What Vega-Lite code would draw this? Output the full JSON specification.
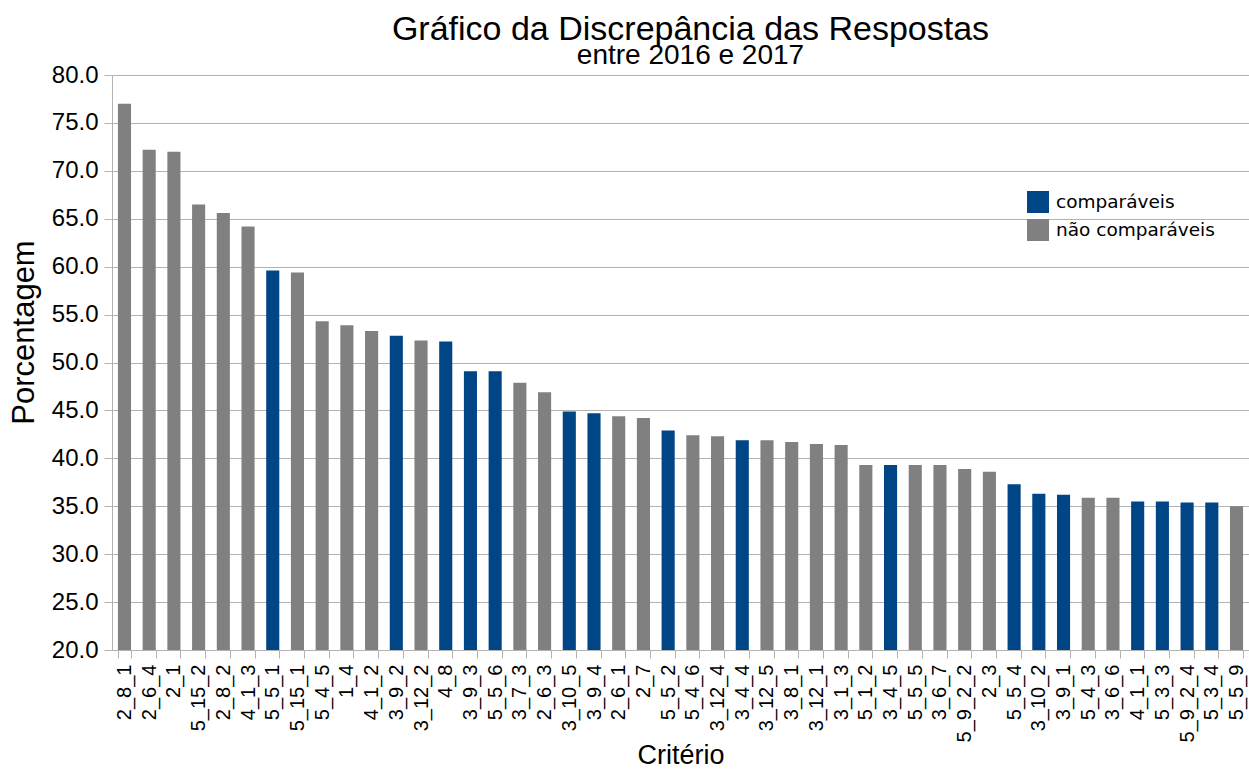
{
  "$schema": "https://vega.github.io/schema/vega-lite/v6.json",
  "width": 1137,
  "height": 575,
  "autosize": {"type": "none"},
  "padding": {"left": 112, "top": 75, "right": 0, "bottom": 120},
  "background": "white",
  "title": {
    "text": "Gráfico da Discrepância das Respostas",
    "subtitle": "entre 2016 e 2017",
    "font": "Liberation Sans",
    "fontSize": 34,
    "fontWeight": "normal",
    "color": "#000000",
    "subtitleFont": "Liberation Sans",
    "subtitleFontSize": 28,
    "subtitleColor": "#000000",
    "subtitlePadding": -5,
    "anchor": "middle",
    "offset": -7,
    "dx": 10
  },
  "data": {
    "values": [
      {"c": "2_8_1", "v": 77.0, "t": "não comparáveis"},
      {"c": "2_6_4", "v": 72.2, "t": "não comparáveis"},
      {"c": "2_1", "v": 72.0, "t": "não comparáveis"},
      {"c": "5_15_2", "v": 66.5, "t": "não comparáveis"},
      {"c": "2_8_2", "v": 65.6, "t": "não comparáveis"},
      {"c": "4_1_3", "v": 64.2, "t": "não comparáveis"},
      {"c": "5_5_1", "v": 59.6, "t": "comparáveis"},
      {"c": "5_15_1", "v": 59.4, "t": "não comparáveis"},
      {"c": "5_4_5", "v": 54.3, "t": "não comparáveis"},
      {"c": "1_4", "v": 53.9, "t": "não comparáveis"},
      {"c": "4_1_2", "v": 53.3, "t": "não comparáveis"},
      {"c": "3_9_2", "v": 52.8, "t": "comparáveis"},
      {"c": "3_12_2", "v": 52.3, "t": "não comparáveis"},
      {"c": "4_8", "v": 52.2, "t": "comparáveis"},
      {"c": "3_9_3", "v": 49.1, "t": "comparáveis"},
      {"c": "5_5_6", "v": 49.1, "t": "comparáveis"},
      {"c": "3_7_3", "v": 47.9, "t": "não comparáveis"},
      {"c": "2_6_3", "v": 46.9, "t": "não comparáveis"},
      {"c": "3_10_5", "v": 44.9, "t": "comparáveis"},
      {"c": "3_9_4", "v": 44.7, "t": "comparáveis"},
      {"c": "2_6_1", "v": 44.4, "t": "não comparáveis"},
      {"c": "2_7", "v": 44.2, "t": "não comparáveis"},
      {"c": "5_5_2", "v": 42.9, "t": "comparáveis"},
      {"c": "5_4_6", "v": 42.4, "t": "não comparáveis"},
      {"c": "3_12_4", "v": 42.3, "t": "não comparáveis"},
      {"c": "3_4_4", "v": 41.9, "t": "comparáveis"},
      {"c": "3_12_5", "v": 41.9, "t": "não comparáveis"},
      {"c": "3_8_1", "v": 41.7, "t": "não comparáveis"},
      {"c": "3_12_1", "v": 41.5, "t": "não comparáveis"},
      {"c": "3_1_3", "v": 41.4, "t": "não comparáveis"},
      {"c": "5_1_2", "v": 39.3, "t": "não comparáveis"},
      {"c": "3_4_5", "v": 39.3, "t": "comparáveis"},
      {"c": "5_5_5", "v": 39.3, "t": "não comparáveis"},
      {"c": "3_6_7", "v": 39.3, "t": "não comparáveis"},
      {"c": "5_9_2_2", "v": 38.9, "t": "não comparáveis"},
      {"c": "2_3", "v": 38.6, "t": "não comparáveis"},
      {"c": "5_5_4", "v": 37.3, "t": "comparáveis"},
      {"c": "3_10_2", "v": 36.3, "t": "comparáveis"},
      {"c": "3_9_1", "v": 36.2, "t": "comparáveis"},
      {"c": "5_4_3", "v": 35.9, "t": "não comparáveis"},
      {"c": "3_6_6", "v": 35.9, "t": "não comparáveis"},
      {"c": "4_1_1", "v": 35.5, "t": "comparáveis"},
      {"c": "5_3_3", "v": 35.5, "t": "comparáveis"},
      {"c": "5_9_2_4", "v": 35.4, "t": "comparáveis"},
      {"c": "5_3_4", "v": 35.4, "t": "comparáveis"},
      {"c": "5_5_9", "v": 35.0, "t": "não comparáveis"}
    ]
  },
  "mark": {"type": "bar", "clip": true},
  "encoding": {
    "x": {
      "field": "c",
      "type": "nominal",
      "sort": null,
      "title": "Critério",
      "scale": {"paddingInner": 0.47, "paddingOuter": 0.24},
      "axis": {
        "labelAngle": -90,
        "labelFont": "Liberation Sans",
        "labelFontSize": 20,
        "labelColor": "#000000",
        "labelPadding": 6,
        "titleFont": "Liberation Sans",
        "titleFontSize": 27,
        "titleFontWeight": "normal",
        "titleColor": "#000000",
        "titlePadding": 1,
        "domainColor": "#b3b3b3",
        "tickColor": "#b3b3b3",
        "tickSize": 8,
        "tickBand": "extent",
        "grid": false
      }
    },
    "y": {
      "field": "v",
      "type": "quantitative",
      "title": "Porcentagem",
      "scale": {"domain": [20, 80], "nice": false, "zero": false},
      "axis": {
        "values": [20, 25, 30, 35, 40, 45, 50, 55, 60, 65, 70, 75, 80],
        "format": ".1f",
        "labelFont": "Liberation Sans",
        "labelFontSize": 24,
        "labelColor": "#000000",
        "labelPadding": 6,
        "titleFont": "Liberation Sans",
        "titleFontSize": 31,
        "titleFontWeight": "normal",
        "titleColor": "#000000",
        "titleX": -88,
        "titleY": 257,
        "titleAngle": 270,
        "titleAlign": "center",
        "titleBaseline": "middle",
        "domainColor": "#b3b3b3",
        "tickColor": "#b3b3b3",
        "tickSize": 8,
        "gridColor": "#b3b3b3",
        "gridOpacity": 1
      }
    },
    "color": {
      "field": "t",
      "type": "nominal",
      "title": null,
      "scale": {"domain": ["comparáveis", "não comparáveis"], "range": ["#004586", "#808080"]},
      "legend": {
        "orient": "none",
        "legendX": 915,
        "legendY": 116,
        "symbolType": "square",
        "symbolSize": 484,
        "symbolOpacity": 1,
        "symbolStrokeWidth": 0,
        "labelFont": "DejaVu Sans",
        "labelFontSize": 18.5,
        "labelColor": "#000000",
        "rowPadding": 6,
        "labelOffset": 7
      }
    }
  },
  "config": {
    "view": {"stroke": null},
    "axis": {"gridWidth": 1}
  }
}
